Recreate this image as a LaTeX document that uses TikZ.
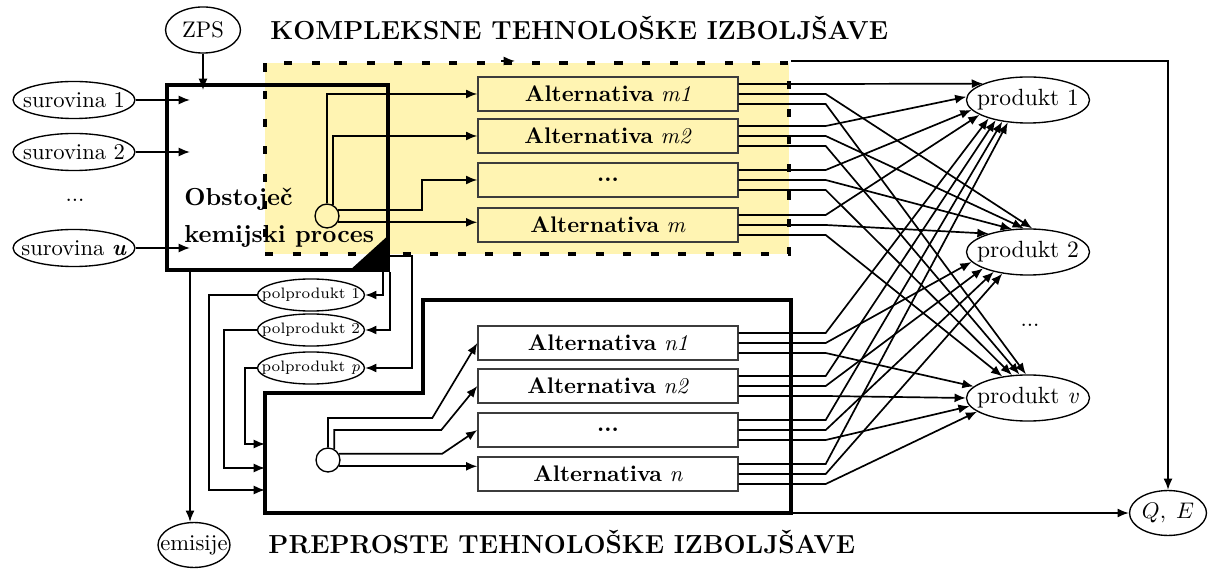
\documentclass[tikz,border=0pt]{standalone}
\usepackage{fontspec}
\usetikzlibrary{shapes.geometric,arrows.meta,calc}
\definecolor{kyellow}{RGB}{255,244,178}
\definecolor{boxgray}{RGB}{60,60,60}
% oval labels are set in a zero-width box so that the ellipse size is fixed
\newcommand{\ovtext}[1]{\makebox[0pt]{#1}}
\begin{document}
\begin{tikzpicture}[x=0.443pt, y=-0.443pt,
  ln/.style={line width=0.75pt},
  arr/.style={ln, -{Latex[length=5pt,width=4pt]}},
  oval/.style={ellipse, draw, line width=0.6pt, inner sep=0pt,
    font=\fontsize{10}{12}\selectfont},
  inoval/.style={oval, minimum width=54pt, minimum height=16.4pt},
  prodoval/.style={oval, minimum width=54.5pt, minimum height=20.4pt,
    font=\fontsize{10.4}{12}\selectfont},
  semioval/.style={oval, minimum width=47.4pt, minimum height=14.2pt,
    font=\fontsize{6.7}{8}\selectfont},
  altbox/.style={rectangle, draw=boxgray, line width=0.6pt, inner sep=0pt,
    minimum width=115.2pt, minimum height=15pt,
    font=\fontsize{10}{12}\selectfont},
  splitter/.style={circle, draw, line width=0.6pt, inner sep=0pt, minimum size=10.6pt},
  heavy/.style={line width=1.5pt},
  heading/.style={font=\fontsize{11.55}{13}\selectfont\bfseries, inner sep=0pt}]

\useasboundingbox (0,0) rectangle (1212,570);

% complex improvements region
\node[rectangle, fill=kyellow, draw=black, line width=1.8pt,
  dash pattern=on 3.6pt off 8.6pt, minimum width=232.1pt, minimum height=84.6pt,
  inner sep=0pt] (kompl) at (527,158.5) {};

% existing process
\node[rectangle, draw, line width=1.7pt, minimum width=97.9pt, minimum height=82pt,
  inner sep=0pt] (proc) at (277.5,177.5) {};
\fill ($(proc.south east)+(-42,0)$) -- ($(proc.south east)+(0,-38)$)
  -- (proc.south east) -- cycle;
\node[anchor=west, align=left, inner sep=0pt,
  font=\fontsize{10.9}{16.4}\selectfont\bfseries] (proclbl) at (184,218)
  {Obstoječ\\kemijski proces};

% headings
\node[heading, anchor=base west] (h1) at (270,40) {KOMPLEKSNE TEHNOLOŠKE IZBOLJŠAVE};
\node[heading, anchor=base west] (h2) at (268,553) {PREPROSTE TEHNOLOŠKE IZBOLJŠAVE};

% inputs
\node[oval, minimum width=33.2pt, minimum height=20.4pt] (zps) at (203,30) {\ovtext{ZPS}};
\node[inoval] (s1) at (74,100) {\ovtext{surovina 1}};
\node[inoval] (s2) at (74,152) {\ovtext{surovina 2}};
\node[font=\fontsize{10}{12}\selectfont] (sdots) at (75,200) {...};
\node[inoval] (su) at (74,248) {\ovtext{surovina \textbf{\textit{u}}}};
\coordinate (ain) at (190,0);
\draw[arr] (zps.south) -- ($(zps.south |- proc.north)+(0,7)$);
\foreach \s in {s1,s2,su} \draw[arr] (\s.east) -- (\s.east -| ain);

% emissions
\node[oval, minimum width=31.9pt, minimum height=19.9pt] (emis) at (194,545) {\ovtext{emisije}};
\coordinate (etop) at (emis.north -| ain);
\draw[arr] (etop |- proc.south) -- (etop);

% intermediate products
\node[semioval] (pp1) at (311,295) {\ovtext{polprodukt 1}};
\node[semioval] (pp2) at (311,330) {\ovtext{polprodukt 2}};
\node[semioval] (ppp) at (311,368) {\ovtext{polprodukt \textit{p}}};
\draw[arr] ($(proc.south east)+(-7,0)$) |- (pp1.east);
\draw[arr] (proc.south east) |- (pp2.east);
\draw[arr] ($(proc.south east)+(0,-16)$) -- ++(22,0) |- (ppp.east);

% simple improvements region
\coordinate (lowNW) at (265,393);
\coordinate (lowSE) at (791,513);
\draw[heavy] (lowNW) -- (423,393) -- (423,300) -- (791,300) -- (lowSE)
  -- (265,513) -- cycle;
\coordinate (in1) at (265,490);
\coordinate (in2) at (265,468);
\coordinate (in3) at (265,444);
\draw[arr] (pp1.west) -- ++(-48,0) |- (in1);
\draw[arr] (pp2.west) -- ++(-33,0) |- (in2);
\draw[arr] (ppp.west) -- ++(-12,0) |- (in3);

% alternatives
\node[altbox, fill=kyellow] (m1) at (608,94)  {\textbf{Alternativa} \textit{m1}};
\node[altbox, fill=kyellow] (m2) at (608,136) {\textbf{Alternativa} \textit{m2}};
\node[altbox, fill=kyellow] (m3) at (608,180) {\textbf{...}};
\node[altbox, fill=kyellow] (m4) at (608,225) {\textbf{Alternativa} \textit{m}};
\node[altbox, fill=white] (n1) at (608,343) {\textbf{Alternativa} \textit{n1}};
\node[altbox, fill=white] (n2) at (608,386) {\textbf{Alternativa} \textit{n2}};
\node[altbox, fill=white] (n3) at (608,430) {\textbf{...}};
\node[altbox, fill=white] (n4) at (608,474) {\textbf{Alternativa} \textit{n}};

% splitters
\node[splitter] (uc) at (327,216) {};
\node[splitter] (lc) at (328,460) {};
\draw[arr] (uc.north) |- (m1.west);
\draw[arr] (uc.60) |- (m2.west);
\draw[arr] (uc.30) -- ($(uc.30 -| m3.west)+(-55,0)$) |- (m3.west);
\draw[arr] (uc.-30) -- (uc.-30 -| m4.west);
\draw[arr] (lc.north) |- ($(n1.west)+(-45,75)$) -- (n1.west);
\draw[arr] (lc.60) |- ($(n2.west)+(-36,44)$) -- (n2.west);
\draw[arr] (lc.30) -- ($(lc.30 -| n3.west)+(-35,0)$) -- (n3.west);
\draw[arr] (lc.-30) -- (lc.-30 -| n4.west);

% products
\node[prodoval] (p1) at (1028,100) {\ovtext{produkt 1}};
\node[prodoval] (p2) at (1028,252) {\ovtext{produkt 2}};
\node[font=\fontsize{10}{12}\selectfont] (pdots) at (1030,325) {...};
\node[prodoval] (pv) at (1028,398) {\ovtext{produkt \textit{v}}};
\node[oval, minimum width=34.1pt, minimum height=19.9pt] (qe) at (1168,513) {\ovtext{$Q,\;E$}};

% every alternative feeds every product; border angles spread the arrowheads
\foreach \b/\a/\c/\d in {m1/160/80/95, m2/177/100/110, m3/190/125/125,
    m4/197/155/140, n1/205/190/168, n2/212/200/180, n3/220/210/188,
    n4/228/220/195} {
  \draw[arr] ($(\b.east)+(0,-10)$) -- ++(87,0) -- (p1.\a);
  \draw[arr] (\b.east) -- ++(87,0) -- (p2.\c);
  \draw[arr] ($(\b.east)+(0,10)$) -- ++(87,0) -- (pv.\d);
}

% overall flows to Q, E
\draw[arr] ($(kompl.north west)+(238,0)$) -- ++(14,0);
\draw[arr] (kompl.north east) -| (qe.north);
\draw[arr] (lowSE) -- (qe.west);
\end{tikzpicture}
\end{document}
